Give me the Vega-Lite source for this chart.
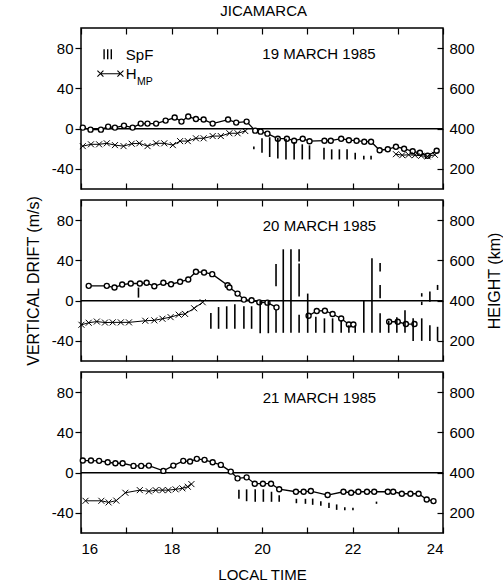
{
  "$schema": "https://vega.github.io/schema/vega-lite/v6.json",
  "padding": {"left": 24, "top": 3, "right": 0, "bottom": 0},
  "spacing": 3,
  "title": {"text": "JICAMARCA", "anchor": "middle", "fontSize": 15, "fontWeight": "normal", "offset": 8},
  "datasets": {
    "drift": [
      {"day":19,"seg":1,"t":16.04,"v":1},{"day":19,"seg":1,"t":16.21,"v":-1},{"day":19,"seg":1,"t":16.44,"v":-1},{"day":19,"seg":1,"t":16.60,"v":2},{"day":19,"seg":1,"t":16.75,"v":1},{"day":19,"seg":1,"t":16.95,"v":3},{"day":19,"seg":1,"t":17.14,"v":1},{"day":19,"seg":1,"t":17.32,"v":5},{"day":19,"seg":1,"t":17.47,"v":5},{"day":19,"seg":1,"t":17.66,"v":5},{"day":19,"seg":1,"t":17.87,"v":8},{"day":19,"seg":1,"t":18.07,"v":11},{"day":19,"seg":1,"t":18.22,"v":7},{"day":19,"seg":1,"t":18.37,"v":12},{"day":19,"seg":1,"t":18.54,"v":9.5},{"day":19,"seg":1,"t":18.71,"v":9},{"day":19,"seg":1,"t":18.91,"v":5},{"day":19,"seg":1,"t":19.25,"v":9},{"day":19,"seg":1,"t":19.43,"v":6},{"day":19,"seg":1,"t":19.66,"v":7},{"day":19,"seg":1,"t":19.85,"v":-2},{"day":19,"seg":1,"t":19.97,"v":-3},{"day":19,"seg":1,"t":20.12,"v":-5},{"day":19,"seg":1,"t":20.35,"v":-10},{"day":19,"seg":1,"t":20.55,"v":-10},{"day":19,"seg":1,"t":20.71,"v":-12},{"day":19,"seg":1,"t":20.90,"v":-10},{"day":19,"seg":1,"t":21.05,"v":-12.5},{"day":19,"seg":1,"t":21.38,"v":-12},{"day":19,"seg":1,"t":21.52,"v":-12},{"day":19,"seg":1,"t":21.75,"v":-10},{"day":19,"seg":1,"t":21.92,"v":-11.5},{"day":19,"seg":1,"t":22.09,"v":-12},{"day":19,"seg":1,"t":22.26,"v":-13},{"day":19,"seg":1,"t":22.41,"v":-13},{"day":19,"seg":1,"t":22.60,"v":-21.5},{"day":19,"seg":1,"t":22.78,"v":-20.5},{"day":19,"seg":1,"t":22.96,"v":-18},{"day":19,"seg":1,"t":23.14,"v":-20},{"day":19,"seg":1,"t":23.33,"v":-22.5},{"day":19,"seg":1,"t":23.49,"v":-24},{"day":19,"seg":1,"t":23.66,"v":-27},{"day":19,"seg":1,"t":23.86,"v":-22},
      {"day":20,"seg":1,"t":16.17,"v":14.7},{"day":20,"seg":1,"t":16.57,"v":14.7},{"day":20,"seg":1,"t":16.74,"v":13},{"day":20,"seg":1,"t":16.91,"v":16},{"day":20,"seg":1,"t":17.10,"v":17},{"day":20,"seg":1,"t":17.30,"v":17},{"day":20,"seg":1,"t":17.45,"v":17.7},{"day":20,"seg":1,"t":17.62,"v":14.3},{"day":20,"seg":1,"t":17.82,"v":17.7},{"day":20,"seg":1,"t":17.99,"v":16.3},{"day":20,"seg":1,"t":18.19,"v":18.7},{"day":20,"seg":1,"t":18.37,"v":21},{"day":20,"seg":1,"t":18.54,"v":28.7},{"day":20,"seg":1,"t":18.72,"v":28},{"day":20,"seg":1,"t":18.90,"v":26.3},{"day":20,"seg":1,"t":19.24,"v":15.3},{"day":20,"seg":1,"t":19.28,"v":13},{"day":20,"seg":1,"t":19.46,"v":7},{"day":20,"seg":1,"t":19.60,"v":1},{"day":20,"seg":1,"t":19.77,"v":0.3},{"day":20,"seg":1,"t":19.94,"v":-1.7},{"day":20,"seg":1,"t":20.12,"v":-2},{"day":20,"seg":1,"t":20.32,"v":-6.7},
      {"day":20,"seg":2,"t":21.03,"v":-15},{"day":20,"seg":2,"t":21.21,"v":-10.3},{"day":20,"seg":2,"t":21.39,"v":-10},{"day":20,"seg":2,"t":21.56,"v":-13.3},{"day":20,"seg":2,"t":21.75,"v":-17.7},{"day":20,"seg":2,"t":21.92,"v":-23.7},{"day":20,"seg":2,"t":22.02,"v":-23.7},
      {"day":20,"seg":3,"t":22.81,"v":-21},{"day":20,"seg":3,"t":23.00,"v":-21},{"day":20,"seg":3,"t":23.18,"v":-23.3},{"day":20,"seg":3,"t":23.37,"v":-23.3},
      {"day":21,"seg":1,"t":16.04,"v":12},{"day":21,"seg":1,"t":16.22,"v":12},{"day":21,"seg":1,"t":16.40,"v":11.7},{"day":21,"seg":1,"t":16.59,"v":10.3},{"day":21,"seg":1,"t":16.76,"v":9.3},{"day":21,"seg":1,"t":16.92,"v":9.3},{"day":21,"seg":1,"t":17.16,"v":6.7},{"day":21,"seg":1,"t":17.33,"v":6.7},{"day":21,"seg":1,"t":17.50,"v":7},{"day":21,"seg":1,"t":17.82,"v":1.7},{"day":21,"seg":1,"t":18.04,"v":7},{"day":21,"seg":1,"t":18.26,"v":11.7},{"day":21,"seg":1,"t":18.41,"v":11},{"day":21,"seg":1,"t":18.56,"v":13.7},{"day":21,"seg":1,"t":18.73,"v":12.7},{"day":21,"seg":1,"t":18.91,"v":10.3},{"day":21,"seg":1,"t":19.09,"v":7.7},{"day":21,"seg":1,"t":19.31,"v":1},{"day":21,"seg":1,"t":19.46,"v":-5.7},{"day":21,"seg":1,"t":19.66,"v":-4.7},{"day":21,"seg":1,"t":19.84,"v":-11},{"day":21,"seg":1,"t":20.02,"v":-11},{"day":21,"seg":1,"t":20.20,"v":-11},{"day":21,"seg":1,"t":20.38,"v":-16.5},{"day":21,"seg":1,"t":20.75,"v":-19},{"day":21,"seg":1,"t":20.92,"v":-19},{"day":21,"seg":1,"t":21.08,"v":-18.3},{"day":21,"seg":1,"t":21.45,"v":-22.3},{"day":21,"seg":1,"t":21.80,"v":-19},{"day":21,"seg":1,"t":21.97,"v":-20},{"day":21,"seg":1,"t":22.13,"v":-19},{"day":21,"seg":1,"t":22.32,"v":-19},{"day":21,"seg":1,"t":22.48,"v":-19},{"day":21,"seg":1,"t":22.78,"v":-19},{"day":21,"seg":1,"t":22.90,"v":-19},{"day":21,"seg":1,"t":23.09,"v":-21},{"day":21,"seg":1,"t":23.28,"v":-21},{"day":21,"seg":1,"t":23.46,"v":-21},{"day":21,"seg":1,"t":23.64,"v":-26.7},{"day":21,"seg":1,"t":23.79,"v":-28.3}
    ],
    "hmp": [
      {"day":19,"seg":1,"t":16.04,"h":313},{"day":19,"seg":1,"t":16.22,"h":322},{"day":19,"seg":1,"t":16.40,"h":322},{"day":19,"seg":1,"t":16.57,"h":327},{"day":19,"seg":1,"t":16.75,"h":318},{"day":19,"seg":1,"t":16.94,"h":313},{"day":19,"seg":1,"t":17.12,"h":325},{"day":19,"seg":1,"t":17.29,"h":327},{"day":19,"seg":1,"t":17.47,"h":313},{"day":19,"seg":1,"t":17.66,"h":327},{"day":19,"seg":1,"t":17.84,"h":327},{"day":19,"seg":1,"t":18.03,"h":318},{"day":19,"seg":1,"t":18.19,"h":338},{"day":19,"seg":1,"t":18.36,"h":338},{"day":19,"seg":1,"t":18.54,"h":352},{"day":19,"seg":1,"t":18.71,"h":352},{"day":19,"seg":1,"t":18.91,"h":363},{"day":19,"seg":1,"t":19.09,"h":363},{"day":19,"seg":1,"t":19.28,"h":377},{"day":19,"seg":1,"t":19.46,"h":377},{"day":19,"seg":1,"t":19.63,"h":388},
      {"day":19,"seg":2,"t":22.96,"h":273},{"day":19,"seg":2,"t":23.10,"h":268},{"day":19,"seg":2,"t":23.24,"h":270},{"day":19,"seg":2,"t":23.38,"h":268},{"day":19,"seg":2,"t":23.52,"h":265},{"day":19,"seg":2,"t":23.66,"h":262},{"day":19,"seg":2,"t":23.82,"h":270},
      {"day":20,"seg":1,"t":16.01,"h":280},{"day":20,"seg":1,"t":16.17,"h":290},{"day":20,"seg":1,"t":16.35,"h":296},{"day":20,"seg":1,"t":16.53,"h":291},{"day":20,"seg":1,"t":16.70,"h":292},{"day":20,"seg":1,"t":16.88,"h":292},{"day":20,"seg":1,"t":17.06,"h":292},{"day":20,"seg":1,"t":17.42,"h":300},{"day":20,"seg":1,"t":17.62,"h":302},{"day":20,"seg":1,"t":17.80,"h":310},{"day":20,"seg":1,"t":17.98,"h":318},{"day":20,"seg":1,"t":18.16,"h":330},{"day":20,"seg":1,"t":18.30,"h":334},{"day":20,"seg":1,"t":18.50,"h":362},{"day":20,"seg":1,"t":18.69,"h":392},
      {"day":21,"seg":1,"t":16.10,"h":260},{"day":21,"seg":1,"t":16.45,"h":260},{"day":21,"seg":1,"t":16.61,"h":252},{"day":21,"seg":1,"t":16.78,"h":261},{"day":21,"seg":1,"t":16.98,"h":300},{"day":21,"seg":1,"t":17.30,"h":313},{"day":21,"seg":1,"t":17.50,"h":307},{"day":21,"seg":1,"t":17.65,"h":313},{"day":21,"seg":1,"t":17.80,"h":313},{"day":21,"seg":1,"t":17.93,"h":313},{"day":21,"seg":1,"t":18.09,"h":317},{"day":21,"seg":1,"t":18.24,"h":322},{"day":21,"seg":1,"t":18.36,"h":330},{"day":21,"seg":1,"t":18.44,"h":343}
    ],
    "spf": [
      {"day":19,"t":19.82,"lo":297,"hi":311},{"day":19,"t":20.00,"lo":280,"hi":352},{"day":19,"t":20.17,"lo":259,"hi":357},{"day":19,"t":20.35,"lo":251,"hi":355},{"day":19,"t":20.53,"lo":247,"hi":350},{"day":19,"t":20.71,"lo":247,"hi":334},{"day":19,"t":20.89,"lo":247,"hi":322},{"day":19,"t":21.05,"lo":247,"hi":317},{"day":19,"t":21.37,"lo":247,"hi":305},{"day":19,"t":21.54,"lo":247,"hi":297},{"day":19,"t":21.71,"lo":247,"hi":297},{"day":19,"t":21.88,"lo":247,"hi":297},{"day":19,"t":22.06,"lo":247,"hi":280},{"day":19,"t":22.25,"lo":247,"hi":265},{"day":19,"t":22.41,"lo":247,"hi":265},
      {"day":20,"t":17.27,"lo":415,"hi":465},{"day":20,"t":18.87,"lo":260,"hi":338},{"day":20,"t":19.04,"lo":260,"hi":368},{"day":20,"t":19.22,"lo":260,"hi":372},{"day":20,"t":19.40,"lo":260,"hi":382},{"day":20,"t":19.60,"lo":260,"hi":372},{"day":20,"t":19.77,"lo":260,"hi":372},{"day":20,"t":19.96,"lo":238,"hi":400},{"day":20,"t":20.14,"lo":238,"hi":400},{"day":20,"t":20.31,"lo":472,"hi":582},{"day":20,"t":20.31,"lo":240,"hi":353},{"day":20,"t":20.47,"lo":240,"hi":655},{"day":20,"t":20.64,"lo":240,"hi":655},{"day":20,"t":20.82,"lo":595,"hi":655},{"day":20,"t":20.82,"lo":420,"hi":585},{"day":20,"t":20.82,"lo":240,"hi":330},{"day":20,"t":21.01,"lo":240,"hi":435},{"day":20,"t":21.19,"lo":240,"hi":320},{"day":20,"t":21.38,"lo":240,"hi":312},{"day":20,"t":21.56,"lo":240,"hi":312},{"day":20,"t":21.75,"lo":240,"hi":303},{"day":20,"t":21.92,"lo":240,"hi":278},{"day":20,"t":22.06,"lo":240,"hi":278},{"day":20,"t":22.25,"lo":240,"hi":398},{"day":20,"t":22.43,"lo":240,"hi":610},{"day":20,"t":22.61,"lo":545,"hi":587},{"day":20,"t":22.61,"lo":412,"hi":478},{"day":20,"t":22.61,"lo":240,"hi":337},{"day":20,"t":22.80,"lo":240,"hi":300},{"day":20,"t":22.98,"lo":240,"hi":317},{"day":20,"t":23.16,"lo":240,"hi":352},{"day":20,"t":23.34,"lo":200,"hi":312},{"day":20,"t":23.53,"lo":420,"hi":437},{"day":20,"t":23.53,"lo":378,"hi":395},{"day":20,"t":23.53,"lo":200,"hi":312},{"day":20,"t":23.71,"lo":395,"hi":445},{"day":20,"t":23.71,"lo":200,"hi":278},{"day":20,"t":23.88,"lo":453,"hi":478},{"day":20,"t":23.88,"lo":200,"hi":270},
      {"day":21,"t":19.49,"lo":270,"hi":315},{"day":21,"t":19.66,"lo":258,"hi":317},{"day":21,"t":19.85,"lo":255,"hi":317},{"day":21,"t":20.03,"lo":255,"hi":317},{"day":21,"t":20.21,"lo":255,"hi":305},{"day":21,"t":20.38,"lo":255,"hi":288},{"day":21,"t":20.76,"lo":248,"hi":270},{"day":21,"t":20.96,"lo":245,"hi":270},{"day":21,"t":21.12,"lo":240,"hi":271},{"day":21,"t":21.30,"lo":235,"hi":258},{"day":21,"t":21.48,"lo":224,"hi":250},{"day":21,"t":21.65,"lo":215,"hi":242},{"day":21,"t":21.83,"lo":213,"hi":228},{"day":21,"t":22.01,"lo":213,"hi":226},{"day":21,"t":22.53,"lo":245,"hi":256}
    ]
  },
  "vconcat": [
    {
      "width": 362, "height": 161,
      "layer": [
        {
          "layer": [
            {"data": {"values": [{}]}, "mark": {"type": "rule", "color": "black", "strokeWidth": 1.5},
             "encoding": {"y": {"datum": 0, "type": "quantitative", "scale": {"domain": [-60, 100], "nice": false, "zero": false},
               "axis": {"orient": "left", "values": [-40, -20, 0, 20, 40, 60, 80], "tickSize": 6, "labelPadding": 2, "labelExpr": "datum.value % 40 === 0 ? '' + datum.value : ''", "title": null, "encode": {"ticks": {"update": {"x": {"value": 6}, "x2": [{"test": "datum.value % 40 !== 0", "value": 0}, {"value": -6}]}}}}}}},
            {"data": {"name": "drift"}, "transform": [{"filter": "datum.day == 19"}], "mark": {"type": "line", "color": "black", "strokeWidth": 1.3},
             "encoding": {"x": {"field": "t", "type": "quantitative", "scale": {"domain": [16, 24], "nice": false, "zero": false}, "axis": {"orient": "bottom", "values": [16, 17, 18, 19, 20, 21, 22, 23, 24], "tickSize": -6, "labels": false, "title": null}},
               "y": {"field": "v", "type": "quantitative", "scale": {"domain": [-60, 100], "nice": false, "zero": false}}, "detail": {"field": "seg"}}},
            {"data": {"name": "drift"}, "transform": [{"filter": "datum.day == 19"}], "mark": {"type": "point", "shape": "circle", "filled": false, "fill": "white", "fillOpacity": 1, "stroke": "black", "strokeWidth": 1.4, "size": 25, "opacity": 1},
             "encoding": {"x": {"field": "t", "type": "quantitative", "scale": {"domain": [16, 24], "nice": false, "zero": false}},
               "y": {"field": "v", "type": "quantitative", "scale": {"domain": [-60, 100], "nice": false, "zero": false}}}},
            {"data": {"values": [{}]}, "mark": {"type": "text", "fontSize": 15, "color": "black"},
             "encoding": {"x": {"datum": 21.26, "type": "quantitative", "scale": {"domain": [16, 24], "nice": false, "zero": false}}, "y": {"datum": 74.5, "type": "quantitative", "scale": {"domain": [-60, 100], "nice": false, "zero": false}}, "text": {"value": "19 MARCH 1985"}}},
            {"data": {"values": [{}]}, "mark": {"type": "point", "shape": "M-0.72,-1V1M0,-1V1M0.72,-1V1", "size": 100, "filled": false, "stroke": "black", "strokeWidth": 1.4, "opacity": 1},
             "encoding": {"x": {"datum": 16.59, "type": "quantitative", "scale": {"domain": [16, 24], "nice": false, "zero": false}}, "y": {"datum": 74, "type": "quantitative", "scale": {"domain": [-60, 100], "nice": false, "zero": false}}}},
            {"data": {"values": [{}]}, "mark": {"type": "text", "fontSize": 15, "align": "left", "baseline": "middle", "color": "black"},
             "encoding": {"x": {"datum": 16.99, "type": "quantitative", "scale": {"domain": [16, 24], "nice": false, "zero": false}}, "y": {"datum": 73.5, "type": "quantitative", "scale": {"domain": [-60, 100], "nice": false, "zero": false}}, "text": {"value": "SpF"}}},
            {"data": {"values": [{}]}, "mark": {"type": "point", "shape": "M-1,0H1M-1.3,-0.3L-0.7,0.3M-1.3,0.3L-0.7,-0.3M0.7,-0.3L1.3,0.3M0.7,0.3L1.3,-0.3", "size": 400, "filled": false, "stroke": "black", "strokeWidth": 1.1, "opacity": 1},
             "encoding": {"x": {"datum": 16.65, "type": "quantitative", "scale": {"domain": [16, 24], "nice": false, "zero": false}}, "y": {"datum": 54.6, "type": "quantitative", "scale": {"domain": [-60, 100], "nice": false, "zero": false}}}},
            {"data": {"values": [{}]}, "mark": {"type": "text", "fontSize": 15, "align": "left", "baseline": "middle", "color": "black"},
             "encoding": {"x": {"datum": 16.99, "type": "quantitative", "scale": {"domain": [16, 24], "nice": false, "zero": false}}, "y": {"datum": 54, "type": "quantitative", "scale": {"domain": [-60, 100], "nice": false, "zero": false}}, "text": {"value": "H"}}},
            {"data": {"values": [{}]}, "mark": {"type": "text", "fontSize": 10.5, "align": "left", "baseline": "middle", "color": "black"},
             "encoding": {"x": {"datum": 17.24, "type": "quantitative", "scale": {"domain": [16, 24], "nice": false, "zero": false}}, "y": {"datum": 46, "type": "quantitative", "scale": {"domain": [-60, 100], "nice": false, "zero": false}}, "text": {"value": "MP"}}}
          ]
        },
        {
          "layer": [
            {"data": {"name": "spf"}, "transform": [{"filter": "datum.day == 19"}], "mark": {"type": "rule", "color": "black", "strokeWidth": 1.6},
             "encoding": {"x": {"field": "t", "type": "quantitative", "scale": {"domain": [16, 24], "nice": false, "zero": false}, "axis": {"orient": "top", "values": [16, 17, 18, 19, 20, 21, 22, 23, 24], "tickSize": -6, "labels": false, "title": null}},
               "y": {"field": "lo", "type": "quantitative", "scale": {"domain": [100, 900], "nice": false, "zero": false}, "axis": {"orient": "right", "values": [200, 300, 400, 500, 600, 700, 800], "tickSize": -6, "labelPadding": 12, "labelExpr": "datum.value % 200 === 0 ? '' + datum.value : ''", "title": null}},
               "y2": {"field": "hi"}}},
            {"data": {"name": "hmp"}, "transform": [{"filter": "datum.day == 19"}], "mark": {"type": "line", "color": "black", "strokeWidth": 1},
             "encoding": {"x": {"field": "t", "type": "quantitative", "scale": {"domain": [16, 24], "nice": false, "zero": false}},
               "y": {"field": "h", "type": "quantitative", "scale": {"domain": [100, 900], "nice": false, "zero": false}}, "detail": {"field": "seg"}}},
            {"data": {"name": "hmp"}, "transform": [{"filter": "datum.day == 19"}], "mark": {"type": "point", "shape": "M-1,-1L1,1M-1,1L1,-1", "size": 36, "filled": false, "stroke": "black", "strokeWidth": 1, "opacity": 1},
             "encoding": {"x": {"field": "t", "type": "quantitative", "scale": {"domain": [16, 24], "nice": false, "zero": false}},
               "y": {"field": "h", "type": "quantitative", "scale": {"domain": [100, 900], "nice": false, "zero": false}}}}
          ]
        }
      ],
      "resolve": {"scale": {"y": "independent"}, "axis": {"x": "independent"}}
    },
    {
      "width": 362, "height": 161,
      "layer": [
        {
          "layer": [
            {"data": {"values": [{}]}, "mark": {"type": "rule", "color": "black", "strokeWidth": 1.5},
             "encoding": {"y": {"datum": 0, "type": "quantitative", "scale": {"domain": [-60, 100], "nice": false, "zero": false},
               "axis": {"orient": "left", "values": [-40, -20, 0, 20, 40, 60, 80], "tickSize": 6, "labelPadding": 2, "labelExpr": "datum.value % 40 === 0 ? '' + datum.value : ''", "title": "VERTICAL DRIFT (m/s)", "titleFontSize": 16, "titlePadding": 10, "encode": {"ticks": {"update": {"x": {"value": 6}, "x2": [{"test": "datum.value % 40 !== 0", "value": 0}, {"value": -6}]}}}}}}},
            {"data": {"name": "drift"}, "transform": [{"filter": "datum.day == 20"}], "mark": {"type": "line", "color": "black", "strokeWidth": 1.3},
             "encoding": {"x": {"field": "t", "type": "quantitative", "scale": {"domain": [16, 24], "nice": false, "zero": false}, "axis": {"orient": "bottom", "values": [16, 17, 18, 19, 20, 21, 22, 23, 24], "tickSize": -6, "labels": false, "title": null}},
               "y": {"field": "v", "type": "quantitative", "scale": {"domain": [-60, 100], "nice": false, "zero": false}}, "detail": {"field": "seg"}}},
            {"data": {"name": "drift"}, "transform": [{"filter": "datum.day == 20"}], "mark": {"type": "point", "shape": "circle", "filled": false, "fill": "white", "fillOpacity": 1, "stroke": "black", "strokeWidth": 1.4, "size": 25, "opacity": 1},
             "encoding": {"x": {"field": "t", "type": "quantitative", "scale": {"domain": [16, 24], "nice": false, "zero": false}},
               "y": {"field": "v", "type": "quantitative", "scale": {"domain": [-60, 100], "nice": false, "zero": false}}}},
            {"data": {"values": [{}]}, "mark": {"type": "text", "fontSize": 15, "color": "black"},
             "encoding": {"x": {"datum": 21.27, "type": "quantitative", "scale": {"domain": [16, 24], "nice": false, "zero": false}}, "y": {"datum": 74.5, "type": "quantitative", "scale": {"domain": [-60, 100], "nice": false, "zero": false}}, "text": {"value": "20 MARCH 1985"}}}
          ]
        },
        {
          "layer": [
            {"data": {"name": "spf"}, "transform": [{"filter": "datum.day == 20"}], "mark": {"type": "rule", "color": "black", "strokeWidth": 1.6},
             "encoding": {"x": {"field": "t", "type": "quantitative", "scale": {"domain": [16, 24], "nice": false, "zero": false}, "axis": {"orient": "top", "values": [16, 17, 18, 19, 20, 21, 22, 23, 24], "tickSize": -6, "labels": false, "title": null}},
               "y": {"field": "lo", "type": "quantitative", "scale": {"domain": [100, 900], "nice": false, "zero": false}, "axis": {"orient": "right", "values": [200, 300, 400, 500, 600, 700, 800], "tickSize": -6, "labelPadding": 12, "labelExpr": "datum.value % 200 === 0 ? '' + datum.value : ''", "title": "HEIGHT (km)", "titleFontSize": 16, "titleAngle": 270, "titleBaseline": "top", "titlePadding": 12}},
               "y2": {"field": "hi"}}},
            {"data": {"name": "hmp"}, "transform": [{"filter": "datum.day == 20"}], "mark": {"type": "line", "color": "black", "strokeWidth": 1},
             "encoding": {"x": {"field": "t", "type": "quantitative", "scale": {"domain": [16, 24], "nice": false, "zero": false}},
               "y": {"field": "h", "type": "quantitative", "scale": {"domain": [100, 900], "nice": false, "zero": false}}, "detail": {"field": "seg"}}},
            {"data": {"name": "hmp"}, "transform": [{"filter": "datum.day == 20"}], "mark": {"type": "point", "shape": "M-1,-1L1,1M-1,1L1,-1", "size": 36, "filled": false, "stroke": "black", "strokeWidth": 1, "opacity": 1},
             "encoding": {"x": {"field": "t", "type": "quantitative", "scale": {"domain": [16, 24], "nice": false, "zero": false}},
               "y": {"field": "h", "type": "quantitative", "scale": {"domain": [100, 900], "nice": false, "zero": false}}}}
          ]
        }
      ],
      "resolve": {"scale": {"y": "independent"}, "axis": {"x": "independent"}}
    },
    {
      "width": 362, "height": 161,
      "layer": [
        {
          "layer": [
            {"data": {"values": [{}]}, "mark": {"type": "rule", "color": "black", "strokeWidth": 1.5},
             "encoding": {"y": {"datum": 0, "type": "quantitative", "scale": {"domain": [-60, 100], "nice": false, "zero": false},
               "axis": {"orient": "left", "values": [-40, -20, 0, 20, 40, 60, 80], "tickSize": 6, "labelPadding": 2, "labelExpr": "datum.value % 40 === 0 ? '' + datum.value : ''", "title": null, "encode": {"ticks": {"update": {"x": {"value": 6}, "x2": [{"test": "datum.value % 40 !== 0", "value": 0}, {"value": -6}]}}}}}}},
            {"data": {"name": "drift"}, "transform": [{"filter": "datum.day == 21"}], "mark": {"type": "line", "color": "black", "strokeWidth": 1.3},
             "encoding": {"x": {"field": "t", "type": "quantitative", "scale": {"domain": [16, 24], "nice": false, "zero": false}, "axis": {"orient": "bottom", "values": [16, 17, 18, 19, 20, 21, 22, 23, 24], "tickSize": -6, "labelPadding": 14, "labelExpr": "datum.value % 2 === 0 ? '' + datum.value : ''", "title": "LOCAL TIME", "titlePadding": 11}},
               "y": {"field": "v", "type": "quantitative", "scale": {"domain": [-60, 100], "nice": false, "zero": false}}, "detail": {"field": "seg"}}},
            {"data": {"name": "drift"}, "transform": [{"filter": "datum.day == 21"}], "mark": {"type": "point", "shape": "circle", "filled": false, "fill": "white", "fillOpacity": 1, "stroke": "black", "strokeWidth": 1.4, "size": 25, "opacity": 1},
             "encoding": {"x": {"field": "t", "type": "quantitative", "scale": {"domain": [16, 24], "nice": false, "zero": false}},
               "y": {"field": "v", "type": "quantitative", "scale": {"domain": [-60, 100], "nice": false, "zero": false}}}},
            {"data": {"values": [{}]}, "mark": {"type": "text", "fontSize": 15, "color": "black"},
             "encoding": {"x": {"datum": 21.27, "type": "quantitative", "scale": {"domain": [16, 24], "nice": false, "zero": false}}, "y": {"datum": 74.5, "type": "quantitative", "scale": {"domain": [-60, 100], "nice": false, "zero": false}}, "text": {"value": "21 MARCH 1985"}}}
          ]
        },
        {
          "layer": [
            {"data": {"name": "spf"}, "transform": [{"filter": "datum.day == 21"}], "mark": {"type": "rule", "color": "black", "strokeWidth": 1.6},
             "encoding": {"x": {"field": "t", "type": "quantitative", "scale": {"domain": [16, 24], "nice": false, "zero": false}, "axis": {"orient": "top", "values": [16, 17, 18, 19, 20, 21, 22, 23, 24], "tickSize": -6, "labels": false, "title": null}},
               "y": {"field": "lo", "type": "quantitative", "scale": {"domain": [100, 900], "nice": false, "zero": false}, "axis": {"orient": "right", "values": [200, 300, 400, 500, 600, 700, 800], "tickSize": -6, "labelPadding": 12, "labelExpr": "datum.value % 200 === 0 ? '' + datum.value : ''", "title": null}},
               "y2": {"field": "hi"}}},
            {"data": {"name": "hmp"}, "transform": [{"filter": "datum.day == 21"}], "mark": {"type": "line", "color": "black", "strokeWidth": 1},
             "encoding": {"x": {"field": "t", "type": "quantitative", "scale": {"domain": [16, 24], "nice": false, "zero": false}},
               "y": {"field": "h", "type": "quantitative", "scale": {"domain": [100, 900], "nice": false, "zero": false}}, "detail": {"field": "seg"}}},
            {"data": {"name": "hmp"}, "transform": [{"filter": "datum.day == 21"}], "mark": {"type": "point", "shape": "M-1,-1L1,1M-1,1L1,-1", "size": 36, "filled": false, "stroke": "black", "strokeWidth": 1, "opacity": 1},
             "encoding": {"x": {"field": "t", "type": "quantitative", "scale": {"domain": [16, 24], "nice": false, "zero": false}},
               "y": {"field": "h", "type": "quantitative", "scale": {"domain": [100, 900], "nice": false, "zero": false}}}}
          ]
        }
      ],
      "resolve": {"scale": {"y": "independent"}, "axis": {"x": "independent"}}
    }
  ],
  "config": {
    "font": "Liberation Sans",
    "view": {"stroke": "black", "strokeWidth": 1.5},
    "axis": {"domain": false, "grid": false, "labelFont": "Liberation Sans", "labelFontSize": 15, "labelColor": "black", "tickColor": "black", "tickWidth": 1.2, "titleFont": "Liberation Sans", "titleFontSize": 15, "titleFontWeight": "normal", "titleColor": "black"},
    "title": {"font": "Liberation Sans", "fontSize": 15, "fontWeight": "normal", "color": "black"},
    "text": {"font": "Liberation Sans", "fontSize": 15, "color": "black"}
  }
}
